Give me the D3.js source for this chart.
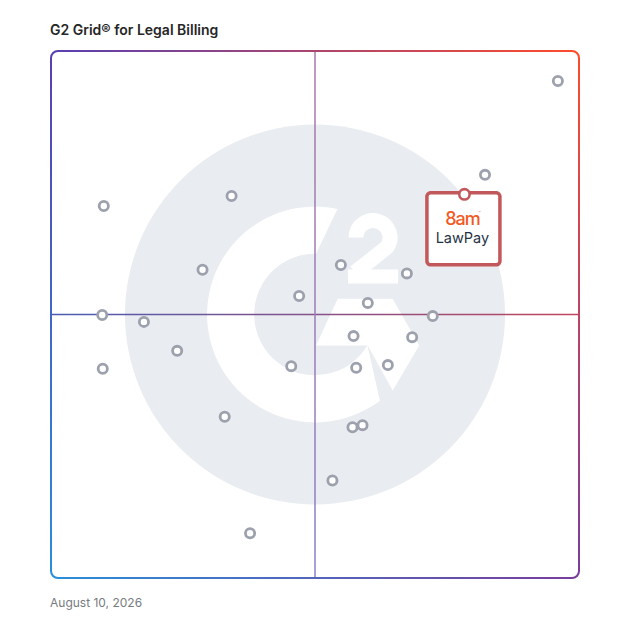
<!DOCTYPE html>
<html>
<head>
<meta charset="utf-8">
<script src="https://cdn.jsdelivr.net/npm/d3@7"></script>
<style>
  body { margin: 0; background: #fff; }
  svg { display: block; font-family: Inter, "Noto Sans", sans-serif; }
</style>
</head>
<body>
<svg id="chart" width="628" height="628"></svg>
<script>
// grid values (0-100, 50 = quadrant split)
const satisfaction = [96.0, 82.2, 10.0, 34.2, 28.7, 54.9, 67.4, 47.0, 60.0, 72.3, 9.7, 17.6,
                      57.3, 68.4, 23.9, 9.8, 45.5, 57.8, 63.8, 32.9, 57.1, 59.0, 53.3, 37.7];
const marketPresence = [94.3, 76.5, 70.6, 72.5, 58.5, 59.4, 57.8, 53.5, 52.2, 49.7, 49.9, 48.6,
                        45.9, 45.7, 43.1, 39.7, 40.2, 39.9, 40.4, 30.6, 28.6, 29.0, 18.5, 8.5];
const featuredName = "LawPay";
const featuredBrand = "8am";
const featuredValue = [78.3, 72.8];
const title = "G2 Grid\u00ae for Legal Billing";
const dateLabel = "August 10, 2026";

const svg = d3.select('#chart');
const width = 628, height = 628;
const margins = { top: 51, bottom: 50, left: 51, right: 49 };

const x = d3.scaleLinear().domain([0, 100]).range([margins.left, width - margins.right]);
const y = d3.scaleLinear().domain([0, 100]).range([height - margins.bottom, margins.top]);

const defs = svg.append('defs');
function grad(id, x1, y1, x2, y2, c1, c2) {
  const g = defs.append('linearGradient').attr('id', id)
    .attr('gradientUnits', 'userSpaceOnUse')
    .attr('x1', x1).attr('y1', y1).attr('x2', x2).attr('y2', y2);
  g.append('stop').attr('offset', 0).attr('stop-color', c1);
  g.append('stop').attr('offset', 1).attr('stop-color', c2);
}

// corner colours of the frame
const cTL = '#5840b2', cTR = '#ff4b2b', cBR = '#7a3c9e', cBL = '#2a8ed8';
const x0 = x(0), x1 = x(100), y0 = y(100), y1 = y(0), rr = 7;

grad('gTop', x0, y0, x1, y0, cTL, cTR);
grad('gRight', x1, y0, x1, y1, cTR, cBR);
grad('gBottom', x0, y1, x1, y1, cBL, cBR);
grad('gLeft', x0, y0, x0, y1, cTL, cBL);
grad('gH', x0, 0, x1, 0, '#4a5db5', '#c1465d');
grad('gV', 0, y0, 0, y1, '#a97aa6', '#8b80ca');

// G2 watermark
const cx = x(50), cy = y(50), R = 190;
const logo = svg.append('g').attr('transform', `translate(${cx},${cy})`);
logo.append('circle').attr('r', R).attr('fill', '#e9ecf0');

const ro = R * 0.568, ri = R * 0.32;
const pt = (r, deg) => [r * Math.cos(deg * Math.PI / 180), r * Math.sin(deg * Math.PI / 180)];
const oT = pt(ro, -78), iT = pt(ri, -89), oB = pt(ro, 53), iB = pt(ri, 30.5);
logo.append('path')
  .attr('fill', '#fff')
  .attr('d', `M${oT} A${ro},${ro} 0 1 0 ${oB} L${iB} A${ri},${ri} 0 1 1 ${iT} Z`);

const k = R / 190;
const chevron = [[22.7, -15.7], [77.7, -15.7], [104.3, 31], [77.7, 76], [52.7, 31], [1, 31]]
  .map(p => [p[0] * k, p[1] * k]);
logo.append('path').attr('fill', '#fff').attr('d', d3.line()(chevron) + 'Z');

// the "2"
const a0 = pt(17 * k, 35);
logo.append('path')
  .attr('fill', 'none').attr('stroke', '#fff').attr('stroke-width', 15 * k)
  .attr('stroke-linejoin', 'miter')
  .attr('d', `M${41 * k},${-77 * k} A${17 * k},${17 * k} 0 1 1 ${58 * k + a0[0]},${-77 * k + a0[1]} L${40 * k},${-42 * k}`);
logo.append('rect').attr('fill', '#fff')
  .attr('x', 33 * k).attr('y', -45 * k).attr('width', 50 * k).attr('height', 14 * k);

// quadrant lines
svg.append('line').attr('x1', x0).attr('x2', x1).attr('y1', y(50)).attr('y2', y(50))
  .attr('stroke', 'url(#gH)').attr('stroke-width', 1.5);
svg.append('line').attr('x1', x(50)).attr('x2', x(50)).attr('y1', y0).attr('y2', y1)
  .attr('stroke', 'url(#gV)').attr('stroke-width', 1.5);

// frame
const frame = svg.append('g').attr('fill', 'none').attr('stroke-width', 2);
frame.append('line').attr('x1', x0 + rr).attr('x2', x1 - rr).attr('y1', y0).attr('y2', y0).attr('stroke', 'url(#gTop)');
frame.append('line').attr('x1', x0 + rr).attr('x2', x1 - rr).attr('y1', y1).attr('y2', y1).attr('stroke', 'url(#gBottom)');
frame.append('line').attr('x1', x0).attr('x2', x0).attr('y1', y0 + rr).attr('y2', y1 - rr).attr('stroke', 'url(#gLeft)');
frame.append('line').attr('x1', x1).attr('x2', x1).attr('y1', y0 + rr).attr('y2', y1 - rr).attr('stroke', 'url(#gRight)');
frame.append('path').attr('stroke', cTL).attr('d', `M${x0},${y0 + rr} A${rr},${rr} 0 0 1 ${x0 + rr},${y0}`);
frame.append('path').attr('stroke', cTR).attr('d', `M${x1 - rr},${y0} A${rr},${rr} 0 0 1 ${x1},${y0 + rr}`);
frame.append('path').attr('stroke', cBR).attr('d', `M${x1},${y1 - rr} A${rr},${rr} 0 0 1 ${x1 - rr},${y1}`);
frame.append('path').attr('stroke', cBL).attr('d', `M${x0 + rr},${y1} A${rr},${rr} 0 0 1 ${x0},${y1 - rr}`);

// product markers
const pts = satisfaction.map((s, i) => ({ s: s, p: marketPresence[i] }));
svg.append('g').selectAll('circle').data(pts).join('circle')
  .attr('cx', d => x(d.s)).attr('cy', d => y(d.p))
  .attr('r', 4.6)
  .attr('fill', '#fff').attr('stroke', '#9ca1ad').attr('stroke-width', 2.8);

// featured product
const fx = x(featuredValue[0]), fy = y(featuredValue[1]);
const box = svg.append('g');
box.append('rect')
  .attr('x', fx - 37.5).attr('y', fy - 1.5).attr('width', 73).attr('height', 72)
  .attr('rx', 3.5).attr('fill', '#fff')
  .attr('stroke', '#c2585a').attr('stroke-width', 3.5);
box.append('circle').attr('cx', fx).attr('cy', fy).attr('r', 5.2)
  .attr('fill', '#fff').attr('stroke', '#c2585a').attr('stroke-width', 2.6);
box.append('text').attr('x', fx - 2).attr('y', fy + 31)
  .attr('text-anchor', 'middle').attr('font-size', 18).attr('font-weight', 500)
  .attr('letter-spacing', -1)
  .attr('fill', '#f2591f').text(featuredBrand);
box.append('text').attr('x', fx + 14).attr('y', fy + 20)
  .attr('font-size', 3.5).attr('fill', '#f2591f').text('\u2122');
box.append('text').attr('x', fx - 2).attr('y', fy + 49)
  .attr('text-anchor', 'middle').attr('font-size', 14.5)
  .attr('fill', '#1f3447').text(featuredName);

// title and date
svg.append('text').attr('x', 50).attr('y', 35)
  .attr('font-size', 14).attr('font-weight', 600).attr('fill', '#262626')
  .text(title);
svg.append('text').attr('x', 50).attr('y', 607)
  .attr('font-size', 12).attr('fill', '#777b80')
  .text(dateLabel);
</script>
</body>
</html>
